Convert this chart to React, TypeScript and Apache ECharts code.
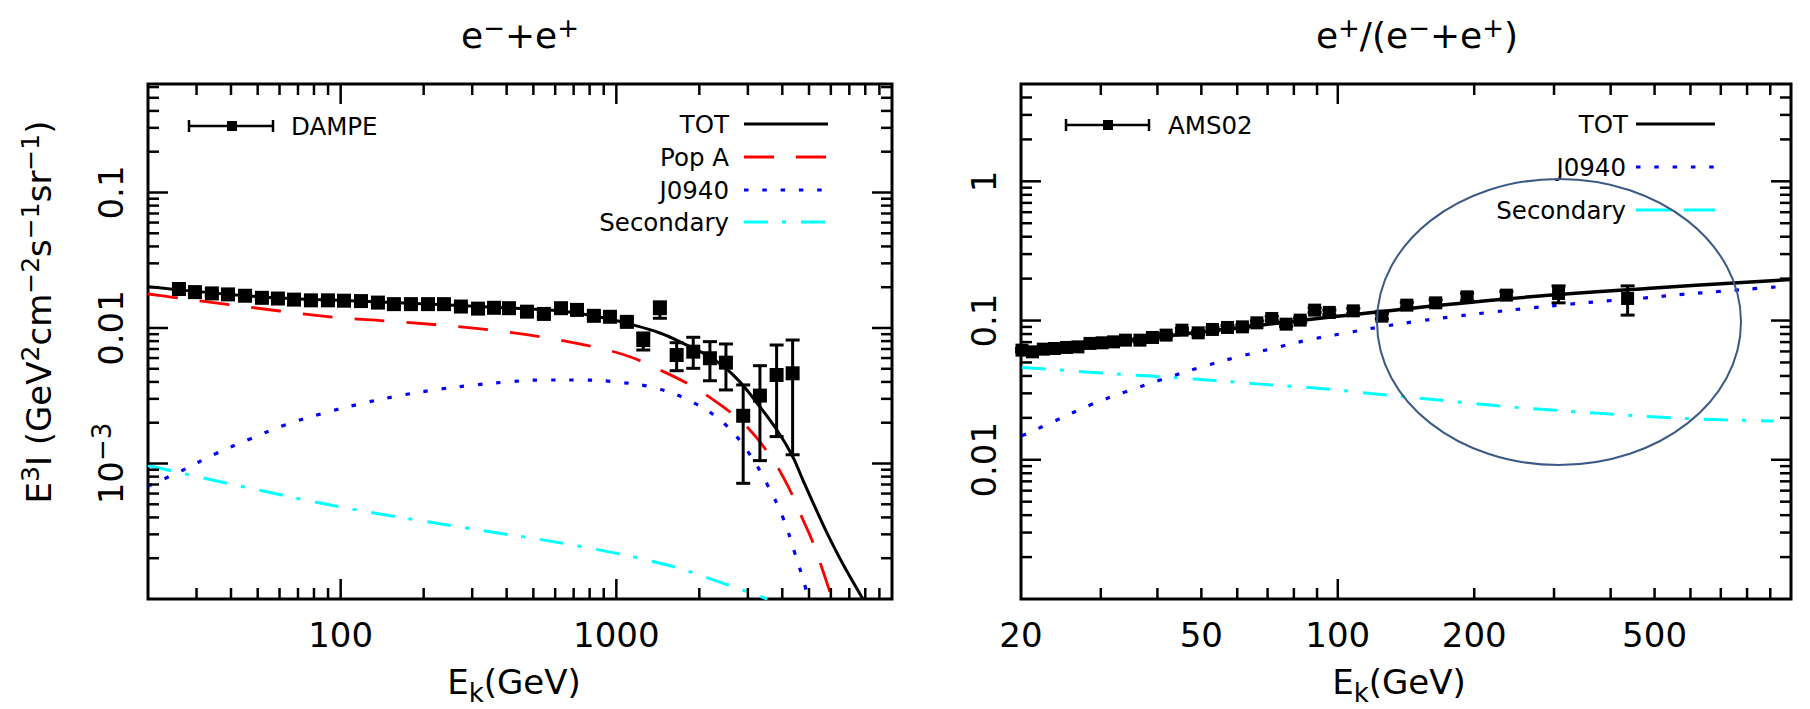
import React, { useEffect, useRef } from 'react';
import * as echarts from 'echarts';

const FONT_NAME = 'DejaVu Sans';
const FONT = "'DejaVu Sans', 'Liberation Sans', sans-serif";

// ---------- Left panel: e- + e+ (DAMPE) ----------
const dampeE = [25.9, 29.6, 34.1, 39.0, 45.0, 51.8, 59.2, 67.7, 78.0, 89.9, 102.8, 118.5, 136.5, 156, 179.8, 207.4, 237, 273, 315, 360, 408, 474, 546, 630, 720, 829, 948, 1092, 1252, 1439, 1655, 1901, 2185, 2498, 2885, 3318, 3814, 4360];
const dampeV = [0.0194, 0.0184, 0.0180, 0.0177, 0.0173, 0.0167, 0.0165, 0.0162, 0.0160, 0.0160, 0.0159, 0.0158, 0.0154, 0.0150, 0.0150, 0.0150, 0.0150, 0.0144, 0.0139, 0.0141, 0.0140, 0.0132, 0.0127, 0.0140, 0.0136, 0.0123, 0.0121, 0.0111, 0.00815, 0.0140, 0.00632, 0.00669, 0.00598, 0.00555, 0.00225, 0.00317, 0.00450, 0.00463];
const dampeLo = [0.0189, 0.0179, 0.0175, 0.0172, 0.0168, 0.0162, 0.0160, 0.0157, 0.0155, 0.0155, 0.0154, 0.0153, 0.0149, 0.0145, 0.0145, 0.0145, 0.0145, 0.0139, 0.0134, 0.0136, 0.0135, 0.0127, 0.0122, 0.0134, 0.0130, 0.0117, 0.0114, 0.0104, 0.00688, 0.0118, 0.00484, 0.00504, 0.00408, 0.00349, 0.000714, 0.00105, 0.00158, 0.00116];
const dampeHi = [0.0199, 0.0189, 0.0185, 0.0182, 0.0178, 0.0172, 0.0170, 0.0167, 0.0165, 0.0165, 0.0164, 0.0163, 0.0159, 0.0155, 0.0155, 0.0155, 0.0155, 0.0149, 0.0144, 0.0146, 0.0145, 0.0137, 0.0132, 0.0146, 0.0142, 0.0129, 0.0128, 0.0118, 0.00919, 0.0156, 0.00779, 0.00854, 0.00793, 0.00762, 0.00380, 0.00527, 0.00749, 0.00815];

const totLE = [20, 51.8, 103, 207, 410, 625, 870, 1117, 1439, 1747, 2244, 2730, 3236, 3824, 4335, 4752, 5253, 5856, 6636, 7842];
const totLV = [0.0202, 0.01693, 0.01596, 0.01503, 0.01405, 0.01335, 0.01206, 0.01069, 0.00919, 0.0077, 0.0059, 0.00425, 0.002796, 0.001767, 0.001155, 0.000755, 0.000478, 0.000297, 0.000181, 0.0001];

const popAE = [20, 24.6, 38.7, 60.1, 94.6, 148, 228, 356, 557, 872, 1120, 1357, 1849, 2436, 2976, 3698, 4262, 4634, 5122, 5522, 6054];
const popAV = [0.01782, 0.01685, 0.01496, 0.01335, 0.01199, 0.01126, 0.01052, 0.00962, 0.00848, 0.00708, 0.00614, 0.00518, 0.00380, 0.002626, 0.001869, 0.001061, 0.000637, 0.000431, 0.000273, 0.000178, 0.000102];

const j0940LE = [20, 26.5, 35.0, 46.9, 62.8, 85.3, 115.8, 156, 214, 290, 400, 546, 748, 1030, 1400, 1876, 2443, 2970, 3509, 4008, 4445, 4872, 4953];
const j0940LV = [0.00068, 0.000885, 0.001175, 0.001517, 0.001924, 0.002331, 0.002735, 0.003112, 0.003469, 0.003752, 0.003995, 0.004133, 0.004133, 0.003974, 0.003589, 0.002858, 0.002001, 0.001258, 0.000714, 0.000405, 0.000217, 0.000118, 0.0001];

const secLE = [20, 43.1, 105, 271, 727, 1530, 2430, 3530];
const secLV = [0.000967, 0.000682, 0.000469, 0.00034, 0.000246, 0.000178, 0.000131, 0.0001];

// ---------- Right panel: positron fraction (AMS02) ----------
const amsE = [20.1, 21.2, 22.4, 23.7, 25.2, 26.7, 28.4, 30.2, 32.0, 34.0, 36.6, 39.0, 41.8, 45.3, 49.2, 52.9, 57.1, 61.6, 66.3, 71.5, 76.9, 82.6, 88.9, 95.8, 108.2, 125.1, 142, 164.4, 192.9, 235.5, 307, 436];
const amsV = [0.0613, 0.0596, 0.0623, 0.0630, 0.0641, 0.0647, 0.0685, 0.0692, 0.0703, 0.0723, 0.0723, 0.0756, 0.0786, 0.0853, 0.0816, 0.0863, 0.0892, 0.0901, 0.0963, 0.1035, 0.0942, 0.1007, 0.1188, 0.1144, 0.1174, 0.1075, 0.1290, 0.1340, 0.1480, 0.1522, 0.1565, 0.1441];
const amsLo = [0.0596, 0.0579, 0.0606, 0.0613, 0.0623, 0.0629, 0.0666, 0.0672, 0.0683, 0.0702, 0.0702, 0.0734, 0.0763, 0.0828, 0.0791, 0.0836, 0.0864, 0.0872, 0.0931, 0.1000, 0.0909, 0.0970, 0.1143, 0.1099, 0.1125, 0.1028, 0.1228, 0.1270, 0.1390, 0.1430, 0.1340, 0.1094];
const amsHi = [0.0630, 0.0613, 0.0640, 0.0647, 0.0659, 0.0665, 0.0704, 0.0712, 0.0723, 0.0744, 0.0744, 0.0778, 0.0809, 0.0878, 0.0841, 0.0890, 0.0920, 0.0930, 0.0995, 0.1070, 0.0975, 0.1044, 0.1233, 0.1189, 0.1223, 0.1122, 0.1352, 0.1410, 0.1570, 0.1615, 0.1774, 0.1774];

const totRE = [20, 41.9, 97.6, 228, 489, 1000];
const totRV = [0.0593, 0.0773, 0.1063, 0.1418, 0.1708, 0.1972];

const j0940RE = [20.1, 24.0, 28.5, 34.2, 41.0, 49.3, 59.1, 71.3, 85.7, 103.8, 125.1, 150.7, 183.2, 221.7, 268.2, 325.8, 392.7, 477.0, 574.5, 696.0, 841.5, 931.5];
const j0940RV = [0.01487, 0.01928, 0.02482, 0.03097, 0.03777, 0.04576, 0.05398, 0.06263, 0.07233, 0.08121, 0.09042, 0.0990, 0.1075, 0.1155, 0.1234, 0.1312, 0.1385, 0.1456, 0.1540, 0.1618, 0.1700, 0.1745];

const secRE = [20.1, 28.9, 38.5, 49.7, 67.4, 91.4, 117.9, 162.6, 240.2, 379.7, 579.4, 916];
const secRV = [0.04606, 0.04241, 0.03990, 0.03777, 0.03494, 0.03254, 0.02998, 0.02705, 0.02402, 0.02154, 0.01983, 0.01896];

// ---------- Axes ----------
const leftX = { min: 20, max: 10000 };
const leftY = { min: 0.0001, max: 0.632 };
const rightX = { min: 20, max: 1000 };
const rightY = { min: 0.001, max: 5 };

const leftXMajor = [100, 1000];
const leftXMinor = [30, 40, 50, 60, 70, 80, 90, 200, 300, 400, 500, 600, 700, 800, 900, 2000, 3000, 4000, 5000, 6000, 7000, 8000, 9000];
const leftYMajor = [0.001, 0.01, 0.1];
const leftYMinor = [0.0002, 0.0003, 0.0004, 0.0005, 0.0006, 0.0007, 0.0008, 0.0009, 0.002, 0.003, 0.004, 0.005, 0.006, 0.007, 0.008, 0.009, 0.02, 0.03, 0.04, 0.05, 0.06, 0.07, 0.08, 0.09, 0.2, 0.3, 0.4, 0.5, 0.6];
const rightXMajor = [100];
const rightXMinor = [30, 40, 50, 60, 70, 80, 90, 200, 300, 400, 500, 600, 700, 800, 900];
const rightYMajor = [0.01, 0.1, 1];
const rightYMinor = [0.002, 0.003, 0.004, 0.005, 0.006, 0.007, 0.008, 0.009, 0.02, 0.03, 0.04, 0.05, 0.06, 0.07, 0.08, 0.09, 0.2, 0.3, 0.4, 0.5, 0.6, 0.7, 0.8, 0.9, 2, 3, 4];

// tick labels: [main, superscript]
const leftXLabelVals = [100, 1000];
const leftXLabels = [['100', ''], ['1000', '']];
const leftYLabelVals = [0.1, 0.01, 0.001];
const leftYLabels = [['0.1', ''], ['0.01', ''], ['10', '−3']];
const rightXLabelVals = [20, 50, 100, 200, 500];
const rightXLabels = [['20', ''], ['50', ''], ['100', ''], ['200', ''], ['500', '']];
const rightYLabelVals = [1, 0.1, 0.01];
const rightYLabels = [['1', ''], ['0.1', ''], ['0.01', '']];

// ---------- text composition helpers (super/subscripts) ----------
let measureCtx: CanvasRenderingContext2D | null = null;
function textWidth(t: string, size: number) {
  if (!measureCtx) measureCtx = document.createElement('canvas').getContext('2d');
  if (!measureCtx) return t.length * size * 0.6;
  measureCtx.font = `${size}px '${FONT_NAME}'`;
  return measureCtx.measureText(t).width;
}
const K_CENTRAL = 0.346;
type Seg = { t: string; size: number; dy: number };
// children in local coords: baseline at y=0, anchored horizontally by align
function composeChildren(segs: Seg[], align: 'center' | 'left' | 'right') {
  const widths = segs.map((s) => textWidth(s.t, s.size));
  const total = widths.reduce((a, b) => a + b, 0);
  let x = align === 'center' ? -total / 2 : align === 'right' ? -total : 0;
  return segs.map((s, i) => {
    const el = {
      type: 'text',
      x,
      y: -s.dy - K_CENTRAL * s.size,
      style: { text: s.t, fontSize: s.size, fontFamily: FONT, fill: '#000', align: 'left', verticalAlign: 'middle' },
    };
    x += widths[i];
    return el;
  });
}

const pairs = (E: number[], V: number[]) => E.map((e, i) => [e, V[i]]);

function tickSeries(gi: number, axis: 'x' | 'y', vals: number[], len: number, anchor: number) {
  return {
    type: 'custom',
    xAxisIndex: gi,
    yAxisIndex: gi,
    silent: true,
    z: 6,
    data: vals.map((v) => (axis === 'x' ? [v, anchor] : [anchor, v])),
    encode: { x: 0, y: 1 },
    renderItem: (params: any, api: any) => {
      const cs = params.coordSys;
      const p = api.coord([api.value(0), api.value(1)]);
      const st = { stroke: '#000', lineWidth: 2.5 };
      if (axis === 'x') {
        const yb = cs.y + cs.height;
        const yt = cs.y;
        return {
          type: 'group',
          children: [
            { type: 'line', shape: { x1: p[0], y1: yb, x2: p[0], y2: yb - len }, style: st },
            { type: 'line', shape: { x1: p[0], y1: yt, x2: p[0], y2: yt + len }, style: st },
          ],
        };
      }
      const xl = cs.x;
      const xr = cs.x + cs.width;
      return {
        type: 'group',
        children: [
          { type: 'line', shape: { x1: xl, y1: p[1], x2: xl + len, y2: p[1] }, style: st },
          { type: 'line', shape: { x1: xr, y1: p[1], x2: xr - len, y2: p[1] }, style: st },
        ],
      };
    },
  };
}

const LABEL_SIZE = 34;
const LABEL_SUP = 26;
function labelSeries(gi: number, axis: 'x' | 'y', vals: number[], labels: string[][], offset: number, anchor: number) {
  return {
    type: 'custom',
    xAxisIndex: gi,
    yAxisIndex: gi,
    silent: true,
    z: 6,
    data: vals.map((v) => (axis === 'x' ? [v, anchor] : [anchor, v])),
    encode: { x: 0, y: 1 },
    renderItem: (params: any, api: any) => {
      const cs = params.coordSys;
      const p = api.coord([api.value(0), api.value(1)]);
      const [main, sup] = labels[params.dataIndex];
      const segs: Seg[] = [{ t: main, size: LABEL_SIZE, dy: 0 }];
      if (sup) segs.push({ t: sup, size: LABEL_SUP, dy: 11 });
      const children = composeChildren(segs, 'center');
      const half = 0.365 * LABEL_SIZE; // half cap height -> baseline offset from label centre
      if (axis === 'x') {
        return { type: 'group', x: p[0], y: cs.y + cs.height + offset + half, children };
      }
      return { type: 'group', x: cs.x - offset + half, y: p[1], rotation: Math.PI / 2, children };
    },
  };
}

function errSeries(gi: number, E: number[], lo: number[], hi: number[], cap: number) {
  return {
    type: 'custom',
    xAxisIndex: gi,
    yAxisIndex: gi,
    silent: true,
    z: 4,
    data: E.map((e, i) => [e, lo[i], hi[i]]),
    encode: { x: 0, y: [1, 2] },
    renderItem: (params: any, api: any) => {
      const a = api.coord([api.value(0), api.value(1)]);
      const b = api.coord([api.value(0), api.value(2)]);
      const st = { stroke: '#000', lineWidth: 3 };
      return {
        type: 'group',
        children: [
          { type: 'line', shape: { x1: a[0], y1: a[1], x2: b[0], y2: b[1] }, style: st },
          { type: 'line', shape: { x1: a[0] - cap, y1: a[1], x2: a[0] + cap, y2: a[1] }, style: st },
          { type: 'line', shape: { x1: b[0] - cap, y1: b[1], x2: b[0] + cap, y2: b[1] }, style: st },
        ],
      };
    },
  };
}

const DASH_RED = [30, 22];
const DOT_BLUE = [4.5, 13.8];
const DASHDOT_CYAN = [24, 14, 4, 15];

function lineSeries(gi: number, E: number[], V: number[], color: string, width: number, type: any) {
  return {
    type: 'line',
    xAxisIndex: gi,
    yAxisIndex: gi,
    data: pairs(E, V),
    smooth: 0.4,
    symbol: 'none',
    showSymbol: false,
    silent: true,
    z: 2,
    lineStyle: { color, width, type },
  };
}

const LEG_FONT = 24.5;
function legendEntry(textRight: number, lineX1: number, lineX2: number, y: number, label: string, color: string, dash: any, width: number) {
  return [
    {
      type: 'text',
      x: textRight,
      y,
      style: { text: label, fontSize: LEG_FONT, fontFamily: FONT, fill: '#000', align: 'right', verticalAlign: 'middle' },
    },
    {
      type: 'line',
      shape: { x1: lineX1, y1: y, x2: lineX2, y2: y },
      style: { stroke: color, lineWidth: width, lineDash: dash },
    },
  ];
}

function errLegend(x1: number, x2: number, xm: number, y: number, label: string, textX: number) {
  const st = { stroke: '#000', lineWidth: 2.5 };
  return [
    { type: 'line', shape: { x1, y1: y, x2, y2: y }, style: st },
    { type: 'line', shape: { x1, y1: y - 6, x2: x1, y2: y + 6 }, style: st },
    { type: 'line', shape: { x1: x2, y1: y - 6, x2, y2: y + 6 }, style: st },
    { type: 'rect', shape: { x: xm - 5, y: y - 5, width: 10, height: 10 }, style: { fill: '#000' } },
    {
      type: 'text',
      x: textX,
      y,
      style: { text: label, fontSize: LEG_FONT, fontFamily: FONT, fill: '#000', align: 'left', verticalAlign: 'middle' },
    },
  ];
}

function buildOption() {
  const axisCommon = {
    type: 'log',
    logBase: 10,
    axisLine: { show: false },
    axisTick: { show: false },
    axisLabel: { show: false },
    splitLine: { show: false },
    minorTick: { show: false },
  };
  const T = 36;
  const TS = 26;
  const xTitle = () => composeChildren([
    { t: 'E', size: 34, dy: 0 }, { t: 'k', size: 26, dy: -8 }, { t: '(GeV)', size: 34, dy: 0 },
  ], 'center');
  const graphic: any[] = [
    // titles
    {
      type: 'group', x: 520, y: 48,
      children: composeChildren([
        { t: 'e', size: T, dy: 0 }, { t: '−', size: TS, dy: 11 },
        { t: '+e', size: T, dy: 0 }, { t: '+', size: TS, dy: 11 },
      ], 'center'),
    },
    {
      type: 'group', x: 1417, y: 48,
      children: composeChildren([
        { t: 'e', size: T, dy: 0 }, { t: '+', size: TS, dy: 11 },
        { t: '/(e', size: T, dy: 0 }, { t: '−', size: TS, dy: 11 },
        { t: '+e', size: T, dy: 0 }, { t: '+', size: TS, dy: 11 },
        { t: ')', size: T, dy: 0 },
      ], 'center'),
    },
    // x axis titles
    { type: 'group', x: 514, y: 694, children: xTitle() },
    { type: 'group', x: 1399, y: 694, children: xTitle() },
    // y axis title (rotated, reading bottom to top)
    {
      type: 'group', x: 51, y: 312, rotation: Math.PI / 2,
      children: composeChildren([
        { t: 'E', size: 34, dy: 0 }, { t: '3', size: 25, dy: 12 },
        { t: 'I (GeV', size: 34, dy: 0 }, { t: '2', size: 25, dy: 12 },
        { t: 'cm', size: 34, dy: 0 }, { t: '−2', size: 25, dy: 12 },
        { t: 's', size: 34, dy: 0 }, { t: '−1', size: 25, dy: 12 },
        { t: 'sr', size: 34, dy: 0 }, { t: '−1', size: 25, dy: 12 },
        { t: ')', size: 34, dy: 0 },
      ], 'center'),
    },
    // left legend
    ...errLegend(189, 273, 232, 126, 'DAMPE', 291),
    ...legendEntry(729, 744, 828, 124, 'TOT', '#000', null, 3),
    ...legendEntry(729, 744, 828, 157, 'Pop A', '#ff0000', DASH_RED, 3),
    ...legendEntry(729, 744, 828, 190, 'J0940', '#0000ff', DOT_BLUE, 3.2),
    ...legendEntry(729, 744, 828, 222, 'Secondary', '#00ffff', DASHDOT_CYAN, 3),
    // right legend
    ...errLegend(1066, 1149, 1108, 125, 'AMS02', 1168),
    ...legendEntry(1628, 1636, 1715, 124, 'TOT', '#000', null, 3),
    ...legendEntry(1626, 1636, 1715, 167, 'J0940', '#0000ff', DOT_BLUE, 3.2),
    ...legendEntry(1626, 1636, 1715, 210, 'Secondary', '#00ffff', [36, 12], 3),
    // highlight ellipse
    {
      type: 'ellipse',
      shape: { cx: 1559, cy: 322, rx: 182, ry: 143 },
      style: { fill: 'none', stroke: '#3C5A85', lineWidth: 2 },
      z: 10,
    },
  ];

  return {
    animation: false,
    backgroundColor: '#fff',
    grid: [
      { left: 148, top: 84, width: 744, height: 515, show: true, borderColor: '#000', borderWidth: 3, backgroundColor: 'transparent' },
      { left: 1021, top: 84, width: 770, height: 515, show: true, borderColor: '#000', borderWidth: 3, backgroundColor: 'transparent' },
    ],
    xAxis: [
      { ...axisCommon, gridIndex: 0, min: leftX.min, max: leftX.max },
      { ...axisCommon, gridIndex: 1, min: rightX.min, max: rightX.max },
    ],
    yAxis: [
      { ...axisCommon, gridIndex: 0, min: leftY.min, max: leftY.max },
      { ...axisCommon, gridIndex: 1, min: rightY.min, max: rightY.max },
    ],
    graphic,
    series: [
      // left curves
      lineSeries(0, secLE, secLV, '#00ffff', 3, DASHDOT_CYAN),
      lineSeries(0, j0940LE, j0940LV, '#0000ff', 3.2, DOT_BLUE),
      lineSeries(0, popAE, popAV, '#ff0000', 2.8, DASH_RED),
      lineSeries(0, totLE, totLV, '#000000', 3, 'solid'),
      errSeries(0, dampeE, dampeLo, dampeHi, 7),
      {
        type: 'scatter', xAxisIndex: 0, yAxisIndex: 0, data: pairs(dampeE, dampeV),
        symbol: 'rect', symbolSize: 14, itemStyle: { color: '#000', opacity: 1 }, silent: true, z: 5,
      },
      // right curves
      lineSeries(1, secRE, secRV, '#00ffff', 3, DASHDOT_CYAN),
      lineSeries(1, j0940RE, j0940RV, '#0000ff', 3.2, DOT_BLUE),
      errSeries(1, amsE, amsLo, amsHi, 7),
      {
        type: 'scatter', xAxisIndex: 1, yAxisIndex: 1, data: pairs(amsE, amsV),
        symbol: 'rect', symbolSize: 13, itemStyle: { color: '#000', opacity: 1 }, silent: true, z: 5,
      },
      lineSeries(1, totRE, totRV, '#000000', 3.5, 'solid'),
      // ticks
      tickSeries(0, 'x', leftXMajor, 20, leftY.min),
      tickSeries(0, 'x', leftXMinor, 11, leftY.min),
      tickSeries(0, 'y', leftYMajor, 20, leftX.min),
      tickSeries(0, 'y', leftYMinor, 11, leftX.min),
      tickSeries(1, 'x', rightXMajor, 20, rightY.min),
      tickSeries(1, 'x', rightXMinor, 11, rightY.min),
      tickSeries(1, 'y', rightYMajor, 20, rightX.min),
      tickSeries(1, 'y', rightYMinor, 11, rightX.min),
      // tick labels
      labelSeries(0, 'x', leftXLabelVals, leftXLabels, 35, leftY.min),
      labelSeries(0, 'y', leftYLabelVals, leftYLabels, 38, leftX.min),
      labelSeries(1, 'x', rightXLabelVals, rightXLabels, 35, rightY.min),
      labelSeries(1, 'y', rightYLabelVals, rightYLabels, 38, rightX.min),
    ],
  };
}

export default function App() {
  const ref = useRef<HTMLDivElement>(null);
  useEffect(() => {
    if (!ref.current) return;
    const chart = echarts.init(ref.current, null, { renderer: 'svg' });
    chart.setOption(buildOption() as any);
    return () => chart.dispose();
  }, []);
  return (
    <div
      ref={ref}
      style={{ position: 'fixed', left: 0, top: 0, width: 1810, height: 709, background: '#fff' }}
    />
  );
}
